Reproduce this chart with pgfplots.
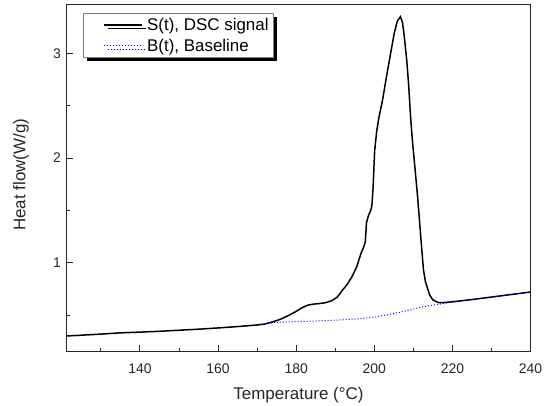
\documentclass[border=0pt]{standalone}
\usepackage{pgfplots}
\pgfplotsset{compat=1.18}
\usepackage{fontspec}
\setmainfont{Liberation Sans}
\usetikzlibrary{shadows}
\begin{document}
\begin{tikzpicture}
\begin{axis}[
  at={(0,0)}, anchor=south west,
  scale only axis, width=464bp, height=347bp,
  xmin=121.2, xmax=240, ymin=0.15, ymax=3.465,
  xtick={140,160,180,200,220,240},
  minor xtick={130,150,170,190,210,230},
  ytick={1,2,3},
  minor ytick={0.5,1.5,2.5},
  xtick pos=bottom, ytick pos=left,
  tick align=inside,
  major tick length=7bp, minor tick length=4bp,
  axis line style={black!85, line width=1.1bp},
  every tick/.style={black!85, line width=0.9bp},
  /pgf/number format/assume math mode=true,
  ticklabel style={font=\fontsize{14}{16}\selectfont, text=black!85},
  xticklabel style={yshift=-9bp},
  yticklabel style={xshift=-2bp},
  xlabel={Temperature (°C)},
  ylabel={Heat flow(W/g)},
  label style={font=\fontsize{17}{19}\selectfont, text=black!85},
  xlabel style={at={(axis description cs:0.5,-0.138)}, anchor=base, inner sep=0pt},
  ylabel style={at={(axis description cs:-0.098,0.51)}, anchor=center, inner sep=0pt},
  legend style={at={(axis description cs:0.035,0.975)}, anchor=north west,
    draw=black!50, fill=white, line width=0.8bp,
    font=\fontsize{17}{19}\selectfont, inner xsep=2bp, inner ysep=2.5bp,
    row sep=3bp,
    nodes={inner xsep=2.5bp},
    drop shadow={shadow xshift=3.5bp, shadow yshift=-3.5bp, fill=black, opacity=1}},
  legend cell align=left,
  legend image code/.code={\path[draw=none,fill=none] (0cm,0cm) (2.1cm,0cm);
    \draw[#1] (0.68cm,0cm) -- (2.02cm,0cm);},
]
\addplot[black, line width=1.5bp] coordinates {
(121.2,0.300) (130,0.318) (135,0.330) (140,0.337) (145,0.345) (150,0.355)
(155,0.365) (160,0.377) (165,0.390) (170,0.405) (172,0.415) (174,0.435)
(176,0.46) (178,0.495) (180,0.535) (181.5,0.57) (183,0.595) (184.5,0.605)
(186,0.61) (187.5,0.618) (189,0.635) (190.5,0.67) (191.7,0.73) (193,0.79)
(194.2,0.86) (195.5,0.96) (196.6,1.09) (197.3,1.15) (197.7,1.20) (198.0,1.38)
(198.5,1.45) (199.1,1.50) (199.4,1.55) (199.7,1.72) (199.9,1.90) (200.1,2.07)
(200.6,2.25) (201.2,2.39) (202.1,2.55) (203.0,2.75) (203.9,2.94) (205.1,3.19)
(205.9,3.31) (206.7,3.35) (207.2,3.30) (207.6,3.19) (208.3,2.94) (208.8,2.70)
(209.3,2.39) (209.8,2.15) (210.4,1.91) (211.0,1.67) (211.5,1.44) (212.0,1.20)
(212.6,0.93) (213.1,0.82) (213.6,0.76) (214.2,0.69) (215,0.645) (216.4,0.62)
(218,0.62) (220,0.627) (225,0.648) (230,0.672) (235,0.696) (240,0.72)
};
\addlegendentry{S(t), DSC signal\hspace{5bp}}
\addplot[blue, line width=1bp, dotted] coordinates {
(172,0.415) (174.2,0.428) (177,0.434) (180,0.437) (184,0.442) (187.9,0.448)
(192,0.455) (196,0.465) (199.8,0.48) (203,0.50) (206.6,0.527) (210,0.558)
(212.6,0.58) (216,0.60) (219.4,0.62) (225,0.648) (230,0.672) (235,0.696) (240,0.72)
};
\addlegendentry{B(t), Baseline}
\end{axis}
\path[use as bounding box] (-66.5bp,-53.5bp) rectangle (482.5bp,351.7bp);
\end{tikzpicture}
\end{document}
